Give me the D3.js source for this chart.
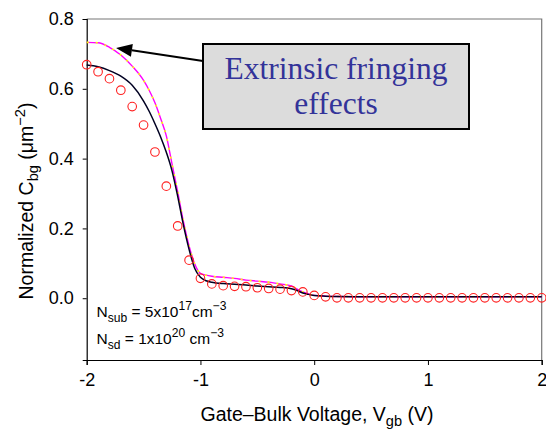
<!DOCTYPE html>
<html><head><meta charset="utf-8">
<script src="https://cdn.jsdelivr.net/npm/d3@7"></script>
<style>
html,body{margin:0;padding:0;background:#fff;}
svg{display:block;font-family:Arial,"Liberation Sans",sans-serif;}
</style></head>
<body>
<script>
// ---- data ----
const xTicks = [-2, -1, 0, 1, 2];
const yTicks = [0.0, 0.2, 0.4, 0.6, 0.8];
const yTickLabels = ["0.0", "0.2", "0.4", "0.6", "0.8"];

// measured (circles)
const measX = [-2.0,-1.9,-1.8,-1.7,-1.6,-1.5,-1.4,-1.3,-1.2,-1.1,-1.0,-0.9,-0.8,-0.7,-0.6,-0.5,-0.4,-0.3,-0.2,-0.1,0.0,0.1,0.2,0.3,0.4,0.5,0.6,0.7,0.8,0.9,1.0,1.1,1.2,1.3,1.4,1.5,1.6,1.7,1.8,1.9,2.0];
const measY = [0.669,0.649,0.629,0.596,0.549,0.496,0.419,0.321,0.207,0.109,0.057,0.041,0.036,0.034,0.033,0.030,0.028,0.026,0.022,0.018,0.008,0.004,0.001,0.001,0.001,0.001,0.001,0.001,0.001,0.001,0.001,0.001,0.001,0.001,0.001,0.001,0.001,0.001,0.001,0.001,0.001];

// intrinsic model (black solid)
const modelX = [-2.0,-1.9,-1.8,-1.7,-1.6,-1.5,-1.45,-1.4,-1.35,-1.3,-1.25,-1.2,-1.15,-1.1,-1.05,-1.0,-0.95,-0.9,-0.8,-0.7,-0.6,-0.5,-0.4,-0.3,-0.2,-0.15,-0.1,-0.05,0.0,0.1,0.2,0.5,1.0,1.5,2.0];
const intrinsicY = [0.668,0.663,0.652,0.636,0.610,0.565,0.535,0.500,0.462,0.418,0.365,0.292,0.210,0.140,0.085,0.060,0.050,0.046,0.042,0.040,0.038,0.035,0.033,0.031,0.027,0.022,0.015,0.011,0.008,0.006,0.005,0.004,0.004,0.004,0.004];
// with extrinsic fringing (magenta / yellow)
const fringeY = [0.733,0.732,0.719,0.697,0.665,0.624,0.595,0.560,0.515,0.465,0.385,0.305,0.220,0.150,0.098,0.071,0.066,0.063,0.060,0.057,0.052,0.049,0.046,0.041,0.035,0.026,0.018,0.012,0.008,0.006,0.005,0.004,0.004,0.004,0.004];

// ---- layout ----
const W = 546, H = 431;
const M = {left: 86.7, right: 4.3, top: 19, bottom: 71};
const svg = d3.select("body").append("svg").attr("width", W).attr("height", H);

const x = d3.scaleLinear().domain([-2, 2]).range([M.left, W - M.right]);
const y = d3.scaleLinear().domain([-0.177, 0.8]).range([H - M.bottom, M.top]);

// frame top/right
svg.append("path")
  .attr("d", `M${x(-2)},${y(0.8)}H${x(2)}V${y(-0.177)}`)
  .attr("fill", "none").attr("stroke", "#777").attr("stroke-width", 1.2);

// axes
const xAxis = svg.append("g").attr("transform", `translate(0,${y(-0.177)})`)
  .call(d3.axisBottom(x).tickValues(xTicks).tickSize(5).tickPadding(8).tickFormat(d => d3.format("d")(d)));
const yAxis = svg.append("g").attr("transform", `translate(${x(-2)},0)`)
  .call(d3.axisLeft(y).tickValues(yTicks).tickSize(4).tickPadding(9).tickFormat((d,i) => yTickLabels[i]));
[xAxis, yAxis].forEach(g => {
  g.select(".domain").attr("stroke", "#000").attr("stroke-width", 1.2);
  g.selectAll(".tick line").attr("stroke", "#000");
  g.selectAll("text").attr("font-size", 18).attr("fill", "#000").attr("font-family", "Arial, 'Liberation Sans', sans-serif");
});
xAxis.selectAll("text").text(d => d < 0 ? "-" + Math.abs(d) : d);

// lines
const lineGen = (ys) => d3.line().x((d, i) => x(modelX[i])).y((d, i) => y(ys[i])).curve(d3.curveMonotoneX);
svg.append("path").datum(fringeY).attr("d", lineGen(fringeY))
  .attr("fill", "none").attr("stroke", "#ff00ff").attr("stroke-width", 1.4);
svg.append("path").datum(fringeY).attr("d", lineGen(fringeY))
  .attr("fill", "none").attr("stroke", "#ffff00").attr("stroke-width", 1.6).attr("stroke-dasharray", "2,7");
svg.append("path").datum(intrinsicY).attr("d", lineGen(intrinsicY))
  .attr("fill", "none").attr("stroke", "#000022").attr("stroke-width", 1.5);

// circles
svg.append("g").selectAll("circle").data(measX).join("circle")
  .attr("cx", d => x(d)).attr("cy", (d, i) => y(measY[i])).attr("r", 4.3)
  .attr("fill", "none").attr("stroke", "#ff2020").attr("stroke-width", 1.1);

// annotation box
const bx0 = 203, by0 = 44, bx1 = 469, by1 = 129;
svg.append("rect").attr("x", bx0).attr("y", by0).attr("width", bx1 - bx0).attr("height", by1 - by0)
  .attr("fill", "#dcdcdc").attr("stroke", "#000").attr("stroke-width", 2);
const ann = svg.append("text").attr("text-anchor", "middle")
  .attr("font-family", "'Liberation Serif','Times New Roman',serif").attr("font-size", 31.5).attr("fill", "#333399");
ann.append("tspan").attr("x", (bx0 + bx1) / 2).attr("y", 78.5).text("Extrinsic fringing");
ann.append("tspan").attr("x", (bx0 + bx1) / 2).attr("y", 114).text("effects");

// arrow
const tip = [x(-1.742), y(0.717)], tail = [bx0, 61];
const ang = Math.atan2(tail[1] - tip[1], tail[0] - tip[0]);
const hl = 16, hw = 6.5;
const base = [tip[0] + hl * Math.cos(ang), tip[1] + hl * Math.sin(ang)];
svg.append("line").attr("x1", tail[0]).attr("y1", tail[1]).attr("x2", base[0]).attr("y2", base[1])
  .attr("stroke", "#000").attr("stroke-width", 2);
svg.append("polygon").attr("points", [
  tip,
  [base[0] - hw * Math.sin(ang), base[1] + hw * Math.cos(ang)],
  [base[0] + hw * Math.sin(ang), base[1] - hw * Math.cos(ang)]
].map(p => p.join(",")).join(" ")).attr("fill", "#000");

// rich text helper
function richText(g, xp, yp, parts, fs, sc, dn, up) {
  const t = g.append("text").attr("x", xp).attr("y", yp).attr("font-size", fs).attr("fill", "#000");
  parts.forEach(p => {
    const s = t.append("tspan").text(p.t);
    if (p.sub) s.attr("font-size", fs * sc).attr("dy", dn);
    if (p.sup) s.attr("font-size", fs * sc).attr("dy", -up);
    if (p.back) s.attr("dy", p.back);
  });
  return t;
}
richText(svg, 96.5, 317, [{t:"N"},{t:"sub",sub:true},{t:" = 5x10",back:-4.5},{t:"17",sup:true},{t:"cm",back:7.5},{t:"−3",sup:true}], 15.5, 0.78, 4.5, 7.5);
richText(svg, 96.5, 344, [{t:"N"},{t:"sd",sub:true},{t:" = 1x10",back:-4.5},{t:"20",sup:true},{t:" cm",back:7.5},{t:"−3",sup:true}], 15.5, 0.78, 4.5, 7.5);

// axis titles
richText(svg, 0, 421, [{t:"Gate–Bulk Voltage, V"},{t:"gb",sub:true},{t:" (V)",back:-5}], 19.5, 0.75, 5, 8)
  .attr("text-anchor", "middle").attr("x", 317);
richText(svg, 0, 0, [{t:"Normalized C"},{t:"bg",sub:true},{t:" (μm",back:-5},{t:"−2",sup:true},{t:")",back:8}], 19.5, 0.75, 5, 8)
  .attr("text-anchor", "middle").attr("transform", "translate(33,201) rotate(-90)");
</script>
</body></html>
